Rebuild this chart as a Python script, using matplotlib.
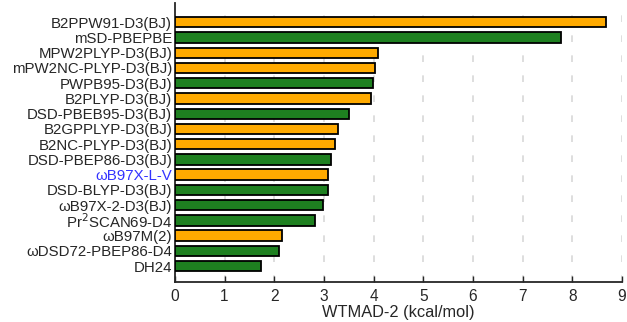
import matplotlib
matplotlib.use("Agg")
import matplotlib.pyplot as plt
import numpy as np

plt.rcParams['font.family'] = ['Liberation Sans', 'DejaVu Sans']

labels = ["B2PPW91-D3(BJ)", "mSD-PBEPBE", "MPW2PLYP-D3(BJ)", "mPW2NC-PLYP-D3(BJ)",
          "PWPB95-D3(BJ)", "B2PLYP-D3(BJ)", "DSD-PBEB95-D3(BJ)", "B2GPPLYP-D3(BJ)",
          "B2NC-PLYP-D3(BJ)", "DSD-PBEP86-D3(BJ)", "ωB97X-L-V", "DSD-BLYP-D3(BJ)",
          "ωB97X-2-D3(BJ)", "Pr$^2$SCAN69-D4", "ωB97M(2)", "ωDSD72-PBEP86-D4", "DH24"]
values = [8.67, 7.78, 4.08, 4.02, 3.99, 3.94, 3.50, 3.28, 3.22, 3.14, 3.08, 3.08,
          2.98, 2.82, 2.15, 2.10, 1.74]
kinds = ["o", "g", "o", "o", "g", "o", "g", "o", "o", "g", "o", "g", "g", "g", "o", "g", "g"]

palette = {"o": "#ffaa00", "g": "#1e8020"}
colors = [palette[k] for k in kinds]
txt = "#262626"

fig = plt.figure(figsize=(6.27, 3.22), dpi=100)
ax = fig.add_axes([0.279, 0.124, 0.713, 0.866])

y = np.arange(len(labels))
ax.barh(y, values, height=0.68, color=colors, edgecolor="black", linewidth=1.3, zorder=3)

ax.set_xlim(0, 9)
ax.set_xticks(range(10))
ax.tick_params(axis="both", direction="in", length=4, width=1, colors=txt)
ax.tick_params(axis="x", labelsize=11.2, pad=5)
ax.tick_params(axis="y", pad=2)
ax.set_xlabel("WTMAD-2 (kcal/mol)", fontsize=11.8, labelpad=1, color=txt)

ax.set_yticks(y)
ax.set_yticklabels(labels, fontsize=10.8, color=txt)
ax.get_yticklabels()[10].set_color("#3333ff")
ax.set_ylim(len(labels) + 0.05, -1.25)

ax.xaxis.grid(True, linestyle=(0, (4, 8)), color="#d8d8d8", linewidth=1.2, zorder=0)
ax.set_axisbelow(True)
for s in ["top", "right"]:
    ax.spines[s].set_visible(False)
for s in ["left", "bottom"]:
    ax.spines[s].set_linewidth(1.3)
    ax.spines[s].set_color(txt)

fig.savefig("out.png", dpi=100)
